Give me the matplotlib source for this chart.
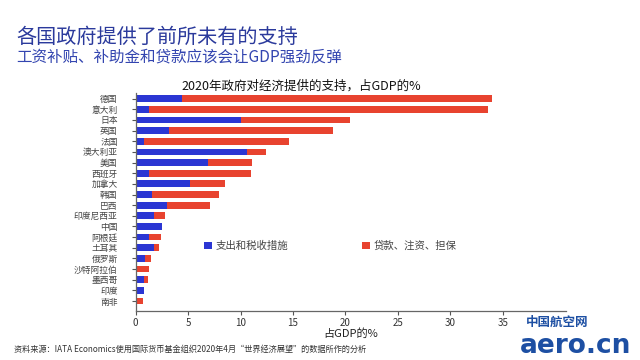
import matplotlib
matplotlib.use("Agg")
import matplotlib.pyplot as plt

plt.rcParams['font.family'] = ['Noto Sans CJK SC', 'DejaVu Sans']

countries = ["德国", "意大利", "日本", "英国", "法国", "澳大利亚", "美国", "西班牙", "加拿大", "韩国",
             "巴西", "印度尼西亚", "中国", "阿根廷", "土耳其", "俄罗斯", "沙特阿拉伯", "墨西哥", "印度", "南非"]
spending_tax = [4.45, 1.3, 10.0, 3.15, 0.8, 10.65, 6.9, 1.3, 5.2, 1.6,
                2.95, 1.75, 2.55, 1.3, 1.7, 0.9, 0.0, 0.8, 0.8, 0.0]
loans_equity = [29.5, 32.3, 10.45, 15.65, 13.8, 1.8, 4.2, 9.7, 3.35, 6.35,
                4.15, 1.0, 0.0, 1.15, 0.5, 0.6, 1.3, 0.4, 0.0, 0.7]
xticks = [0, 5, 10, 15, 20, 25, 30, 35]

BLUE = "#2b36d3"
RED = "#e8432f"

fig = plt.figure(figsize=(6.4, 3.6), dpi=100)
fig.patch.set_facecolor("white")

ax = fig.add_axes([0.212, 0.136, 0.672, 0.606])
ypos = list(range(len(countries)))
ax.barh(ypos, spending_tax, height=0.63, color=BLUE, label="支出和税收措施")
ax.barh(ypos, loans_equity, left=spending_tax, height=0.63, color=RED, label="贷款、注资、担保")

ax.set_ylim(19.94, -0.54)
ax.set_xlim(0, 41)
ax.set_yticks(ypos)
ax.set_yticklabels(countries, fontsize=6.3, color="#444444")
ax.set_xticks(xticks)
ax.set_xticklabels([str(t) for t in xticks], fontsize=7, color="#333333")
ax.tick_params(axis='y', length=3, pad=10, color="#555555")
ax.tick_params(axis='x', length=3, pad=2, color="#555555")
for s in ["top", "right"]:
    ax.spines[s].set_visible(False)
for s in ["left", "bottom"]:
    ax.spines[s].set_color("#666666")
    ax.spines[s].set_linewidth(0.9)
ax.set_xlabel("占GDP的%", fontsize=8, color="#222222", labelpad=0)

leg = ax.legend(loc="upper left", bbox_to_anchor=(0.138, 0.366), ncol=2, frameon=False,
                fontsize=7.5, handlelength=0.7, handleheight=0.7, handletextpad=0.4,
                columnspacing=7.1)
for t in leg.get_texts():
    t.set_color("#444444")

fig.text(0.025, 0.895, "各国政府提供了前所未有的支持", fontsize=14.5, color="#2b3a9c",
         ha="left", va="center")
fig.text(0.025, 0.843, "工资补贴、补助金和贷款应该会让GDP强劲反弹", fontsize=11.2, color="#3345b0",
         ha="left", va="center")
fig.text(0.47, 0.762, "2020年政府对经济提供的支持，占GDP的%", fontsize=9, color="#111111",
         ha="center", va="center")
fig.text(0.022, 0.03, "资料来源：IATA Economics使用国际货币基金组织2020年4月\u201c世界经济展望\u201d的数据所作的分析",
         fontsize=5.9, color="#333333", ha="left", va="center")

# watermark
fig.text(0.87, 0.105, "中国航空网", fontsize=9, color="#1d4fa3", ha="center", va="center",
         fontweight="bold")
fig.text(0.9, 0.04, "aero.cn", fontsize=19, color="#1d4fa3", ha="center", va="center",
         fontweight="bold", family="DejaVu Sans")

fig.savefig("out.png", dpi=100, facecolor="white")
